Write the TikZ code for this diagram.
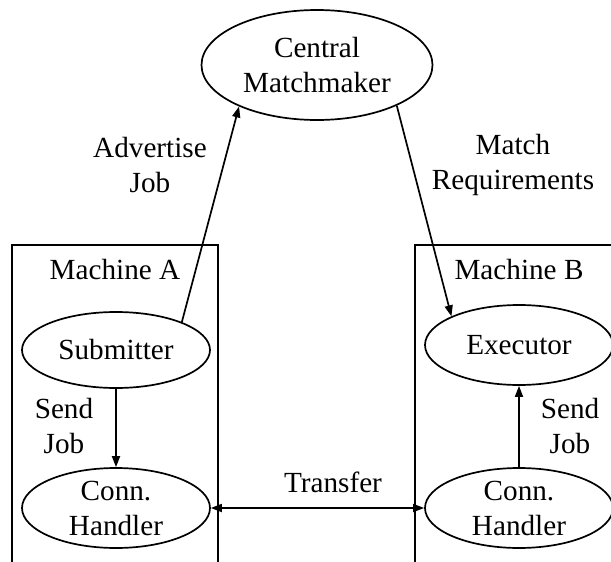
\documentclass[tikz,border=0pt]{standalone}
\usepackage{fontspec}
\setmainfont{Liberation Serif}
\usetikzlibrary{shapes.geometric,arrows.meta}
\begin{document}
\begin{tikzpicture}[x=0.5pt,y=-0.5pt,
  ell/.style={draw,ellipse,inner sep=0pt,line width=0.85pt},
  lbl/.style={align=center,inner sep=0pt,font=\fontsize{14.6}{17.5}\selectfont},
  conn/.style={line width=0.85pt,-{Triangle[length=5.5pt,width=4pt]}},
  both/.style={line width=0.85pt,{Triangle[length=5.5pt,width=4pt]}-{Triangle[length=5.5pt,width=4pt]}},
  frame/.style={line width=0.85pt}]
\clip (0,0) rectangle (611,562);
% machine frames
\draw[frame] (12,580) -- (12,245) -- (218,245) -- (218,580);
\draw[frame] (415,580) -- (415,245) -- (630,245);
% ellipses
\node[ell,minimum width=115.5pt,minimum height=55pt] (mm) at (317,65) {};
\node[lbl] (mmt) at (mm) {Central\\Matchmaker};
\node[ell,minimum width=94pt,minimum height=38pt] (sub) at (116,350) {};
\node[lbl] (subt) at (sub) {Submitter};
\node[ell,minimum width=94pt,minimum height=40pt] (exe) at (519,345) {};
\node[lbl] (exet) at (exe) {Executor};
\node[ell,minimum width=94pt,minimum height=40pt] (ha) at (116,508) {};
\node[lbl] (hat) at (ha) {Conn.\\Handler};
\node[ell,minimum width=94pt,minimum height=40pt] (hb) at (519,508) {};
\node[lbl] (hbt) at (hb) {Conn.\\Handler};
% labels
\node[lbl] (machA) at (115,270) {Machine A};
\node[lbl] (machB) at (519,270) {Machine B};
\node[lbl] (adv) at (150,165) {Advertise\\Job};
\node[lbl] (match) at (513,165) {Match\\Requirements};
\node[lbl] (sjA) at (64,426) {Send\\Job};
\node[lbl] (sjB) at (570,426) {Send\\Job};
\node[lbl] (tr) at (333,482) {Transfer};
% connectors
\draw[conn] (sub.23) -- (mm.208);
\draw[conn] (mm.333) -- (exe.157);
\draw[conn] (sub.south) -- (ha.north);
\draw[conn] (hb.north) -- (exe.south);
\draw[both] (ha.east) -- (hb.west);
\end{tikzpicture}
\end{document}
